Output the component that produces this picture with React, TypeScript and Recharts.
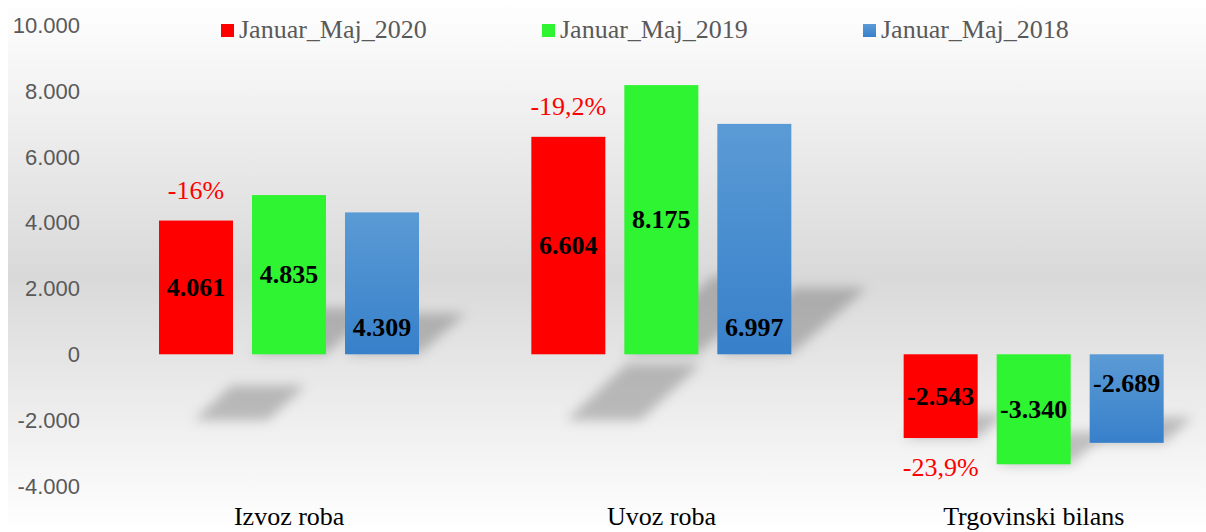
import React from 'react'
import { BarChart, Bar, XAxis, YAxis, Legend, LabelList } from 'recharts'

const categories = ['Izvoz roba', 'Uvoz roba', 'Trgovinski bilans']
const period2020 = [4061, 6604, -2543]
const period2019 = [4835, 8175, -3340]
const period2018 = [4309, 6997, -2689]
const change2020 = ['-16%', '-19,2%', '-23,9%']
const seriesNames = ['Januar_Maj_2020', 'Januar_Maj_2019', 'Januar_Maj_2018']
const yTicks = [-4000, -2000, 0, 2000, 4000, 6000, 8000, 10000]

const chartData = categories.map((name, i) => ({
  name,
  y2020: period2020[i],
  y2019: period2019[i],
  y2018: period2018[i],
}))

const RED = '#ff0000'
const GREEN = '#2ef432'
const BLUE_TOP = '#5b9bd5'
const BLUE_BOTTOM = '#3780ca'
const legendFills = [RED, GREEN, `linear-gradient(${BLUE_TOP}, ${BLUE_BOTTOM})`]

const SERIF = '"Liberation Serif", "Times New Roman", serif'

// 4061 -> "4.061"
const fmt = (v: number) => {
  const s = Math.abs(v).toString().replace(/\B(?=(\d{3})+(?!\d))/g, '.')
  return v < 0 ? '-' + s : s
}

// bar rect, height may come in negative for values below zero
const box = (p: any) => {
  const vb = p.viewBox && p.viewBox.width !== undefined ? p.viewBox : p
  const x = Number(vb.x)
  const y = Number(vb.y)
  const w = Number(vb.width)
  const h = Number(vb.height)
  const top = h < 0 ? y + h : y
  return { x, w, top, bottom: top + Math.abs(h), h: Math.abs(h) }
}

// Excel style perspective shadow drawn under each bar
const makeShape = (key: string, floorShadow: boolean) => (props: any) => {
  const { x, w, top, bottom, h } = box(props)
  const positive = (props.payload?.[key] ?? 0) >= 0
  let pts: number[][]
  if (floorShadow && positive) {
    const yb = bottom + 66
    const yt = yb - 0.26 * h
    const s0 = 35
    const s1 = 35 + 0.28 * h
    pts = [[x + s0, yb], [x + w + s0, yb], [x + w + s1, yt], [x + s1, yt]]
  } else {
    const t = 0.29 * h
    const s = 0.33 * h
    pts = [[x, bottom], [x + w, bottom], [x + w + s, bottom - t], [x + s, bottom - t]]
  }
  return (
    <g>
      <polygon
        points={pts.map(p => p.join(',')).join(' ')}
        fill="#000"
        fillOpacity={0.22}
        filter="url(#barShadow)"
      />
      <rect x={x} y={top} width={w} height={h} fill={props.fill} />
    </g>
  )
}

const valueStyle = { fontFamily: SERIF, fontSize: 26, fontWeight: 700, fill: '#000' }

const renderCentered = (props: any) => {
  const { x, w, top, bottom } = box(props)
  return (
    <text x={x + w / 2} y={(top + bottom) / 2} textAnchor="middle" dominantBaseline="central" style={valueStyle}>
      {fmt(Number(props.value))}
    </text>
  )
}

const renderRed = (props: any) => {
  const { x, w, top, bottom } = box(props)
  const v = Number(props.value)
  const pctY = v >= 0 ? top - 30 : bottom + 29
  return (
    <g>
      <text x={x + w / 2} y={(top + bottom) / 2} textAnchor="middle" dominantBaseline="central" style={valueStyle}>
        {fmt(v)}
      </text>
      <text
        x={x + w / 2}
        y={pctY}
        textAnchor="middle"
        dominantBaseline="central"
        style={{ fontFamily: SERIF, fontSize: 26, fill: RED }}
      >
        {change2020[props.index]}
      </text>
    </g>
  )
}

// blue labels sit next to the zero line
const renderBase = (props: any) => {
  const { x, w, top, bottom } = box(props)
  const v = Number(props.value)
  const y = v >= 0 ? bottom - 27 : top + 29
  return (
    <text x={x + w / 2} y={y} textAnchor="middle" dominantBaseline="central" style={valueStyle}>
      {fmt(v)}
    </text>
  )
}

const renderLegend = () => (
  <div
    style={{
      display: 'flex',
      fontFamily: SERIF,
      fontSize: 26,
      lineHeight: '26px',
      color: '#595959',
    }}
  >
    {seriesNames.map((n, i) => (
      <div key={n} style={{ width: 321, display: 'flex', alignItems: 'center' }}>
        <span style={{ width: 13, height: 13, background: legendFills[i], marginRight: 5, flex: 'none' }} />
        <span style={{ whiteSpace: 'nowrap' }}>{n}</span>
      </div>
    ))}
  </div>
)

export default function App() {
  return (
    <div style={{ position: 'fixed', top: 0, left: 0, width: 1206, height: 532, overflow: 'hidden', background: '#fff' }}>
      <div
        style={{
          position: 'absolute',
          left: 8,
          top: 0,
          width: 1198,
          height: 532,
          background: 'linear-gradient(#ffffff 0%, #d9d9d9 52%, #ffffff 100%)',
        }}
      />
      <div style={{ position: 'absolute', left: 0, top: 0 }}>
        <BarChart
          width={1220}
          height={532}
          data={chartData}
          margin={{ top: 25, right: 0, bottom: 0, left: 0 }}
          barSize={74}
          barGap={19}
        >
          <defs>
            <linearGradient id="blueFill" x1="0" y1="0" x2="0" y2="1">
              <stop offset="0%" stopColor={BLUE_TOP} />
              <stop offset="100%" stopColor={BLUE_BOTTOM} />
            </linearGradient>
            <filter id="barShadow" x="-50%" y="-50%" width="200%" height="200%">
              <feGaussianBlur stdDeviation="6" />
            </filter>
          </defs>
          <XAxis
            dataKey="name"
            axisLine={false}
            tickLine={false}
            tickSize={0}
            tickMargin={21}
            height={46}
            interval={0}
            tick={{ fill: '#000', fontSize: 26, fontFamily: SERIF }}
          />
          <YAxis
            domain={[-4000, 10000]}
            ticks={yTicks}
            interval={0}
            axisLine={false}
            tickLine={false}
            tickSize={0}
            tickMargin={23}
            width={103}
            tickFormatter={fmt}
            tick={{ fill: '#595959', fontSize: 22, fontFamily: '"Liberation Sans", Arial, sans-serif' }}
          />
          <Legend
            layout="horizontal"
            verticalAlign="middle"
            content={renderLegend}
            wrapperStyle={{ top: 17, left: 221, width: 1000, height: 26 }}
          />
          <Bar dataKey="y2020" name={seriesNames[0]} fill={RED} shape={makeShape('y2020', true)} isAnimationActive={false}>
            <LabelList dataKey="y2020" content={renderRed} />
          </Bar>
          <Bar dataKey="y2019" name={seriesNames[1]} fill={GREEN} shape={makeShape('y2019', false)} isAnimationActive={false}>
            <LabelList dataKey="y2019" content={renderCentered} />
          </Bar>
          <Bar dataKey="y2018" name={seriesNames[2]} fill="url(#blueFill)" shape={makeShape('y2018', false)} isAnimationActive={false}>
            <LabelList dataKey="y2018" content={renderBase} />
          </Bar>
        </BarChart>
      </div>
    </div>
  )
}
